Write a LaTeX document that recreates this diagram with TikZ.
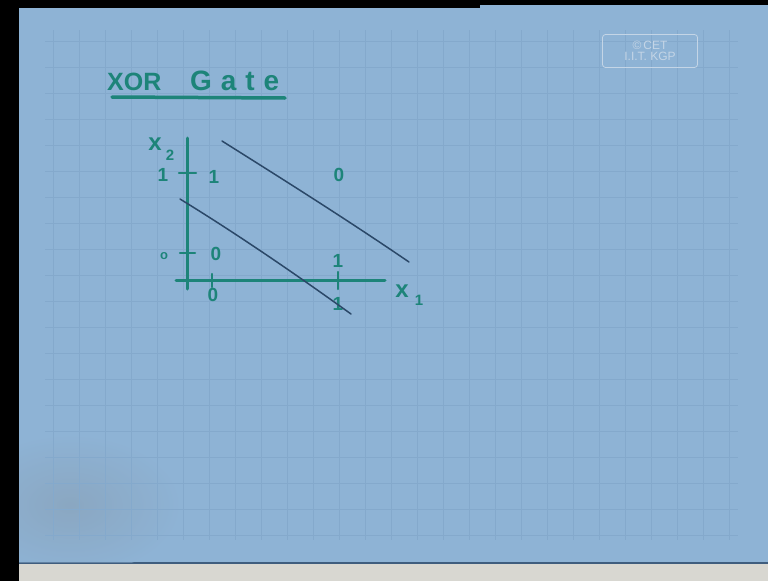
\documentclass[tikz,border=0pt]{standalone}
\usepackage{fontspec}
\setmainfont{Liberation Sans}
\definecolor{paper}{HTML}{8EB3D5}
\definecolor{gridc}{HTML}{84A9CC}
\definecolor{penc}{HTML}{1D8479}
\definecolor{inkc}{HTML}{2B4868}
\definecolor{stampc}{HTML}{C4D5E6}
\definecolor{floorc}{HTML}{D8D7D1}
\begin{document}
\begin{tikzpicture}[x=1pt,y=-1pt,
  pen/.style={draw=penc, line width=3pt, line cap=round},
  thinline/.style={draw=inkc, line width=1.5pt, line cap=round},
  lbl/.style={text=penc, font=\bfseries\fontsize{19}{19}\selectfont, inner sep=0pt},
  smalllbl/.style={text=penc, font=\bfseries\fontsize{13}{13}\selectfont, inner sep=0pt},
  gridline/.style={draw=gridc, line width=0.6pt}]
\useasboundingbox (0,0) rectangle (768,581);
% frame and paper
\fill[black] (0,0) rectangle (768,581);
\fill[paper] (19,8) rectangle (768,563);
\fill[paper] (480,5) rectangle (768,10);
\fill[floorc] (19,564) rectangle (768,581);
\draw[draw=inkc!80!paper, line width=2pt] (19,563) -- (768,563);
\begin{scope}
  \clip (19,8) rectangle (768,562);
  \shade[inner color=gray!50!paper, outer color=paper, opacity=0.45] (70,505) ellipse (110 and 70);
\end{scope}
% grid
\foreach \k in {0,...,26} {
  \draw[gridline] ({53+26*\k},30) -- ({53+26*\k},540);
}
\foreach \k in {0,...,19} {
  \draw[gridline] (45,{41+26*\k}) -- (738,{41+26*\k});
}
% stamp
\node[draw=stampc, rounded corners=3pt, line width=0.8pt, minimum width=95pt, minimum height=33pt,
      text=stampc, font=\fontsize{12}{11.5}\selectfont, align=center, inner sep=0pt] (stamp) at (650,51)
      {\textcopyright\,CET\\I.I.T. KGP};
% title
\node[text=penc, font=\bfseries\fontsize{25}{25}\selectfont, anchor=base west, inner sep=0pt] (t1) at (107,90) {XOR};
\node[text=penc, font=\bfseries\fontsize{28}{28}\selectfont\addfontfeatures{LetterSpace=32}, anchor=base west, inner sep=0pt] (t2) at (190,90) {Gate};
\coordinate (ul1) at (112,97);
\coordinate (ul2) at (285,98);
\draw[pen, line width=3.5pt] (ul1) -- (ul2);
% axes
\coordinate (ytop) at (187,138);
\coordinate (ybot) at (187,289);
\coordinate (xleft) at (176,280);
\coordinate (xright) at (385,280);
\draw[pen] (ybot) -- (ytop);
\draw[pen] (xleft) -- (xright);
% ticks
\coordinate (tx0a) at (212,274); \coordinate (tx0b) at (212,287);
\coordinate (tx1a) at (338,272); \coordinate (tx1b) at (338,289);
\coordinate (ty1a) at (179,173); \coordinate (ty1b) at (196,173);
\coordinate (ty0a) at (180,253); \coordinate (ty0b) at (195,253);
\draw[pen, line width=2.5pt] (tx0a) -- (tx0b);
\draw[pen, line width=2.5pt] (tx1a) -- (tx1b);
\draw[pen, line width=2.5pt] (ty1a) -- (ty1b);
\draw[pen, line width=2.5pt] (ty0a) -- (ty0b);
% axis labels
\node[text=penc, font=\bfseries\fontsize{24}{24}\selectfont, inner sep=0pt] (x2) at (155,144) {x};
\node[text=penc, font=\bfseries\fontsize{15}{15}\selectfont, inner sep=0pt] (x2s) at (170,155) {2};
\node[text=penc, font=\bfseries\fontsize{24}{24}\selectfont, inner sep=0pt] (x1) at (402,291) {x};
\node[text=penc, font=\bfseries\fontsize{15}{15}\selectfont, inner sep=0pt] (x1s) at (419,300) {1};
% tick labels
\node[lbl] (ly1) at (163,175) {1};
\node[smalllbl] (ly0) at (164,256) {o};
\node[lbl] (lx0) at (213,295) {0};
\node[lbl] (lx1) at (338,304) {1};
% data labels
\node[lbl] (p11) at (214,177) {1};
\node[lbl] (p10) at (339,175) {0};
\node[lbl] (p00) at (216,254) {0};
\node[lbl] (p01) at (338,261) {1};
% separating lines
\coordinate (a1) at (222,141);
\coordinate (a2) at (409,262);
\coordinate (b1) at (180,199);
\coordinate (b2) at (351,314);
\draw[thinline] (a1) .. controls (284,180) and (346,219) .. (a2);
\draw[thinline] (b1) .. controls (237,234) and (294,273) .. (b2);
\end{tikzpicture}
\end{document}
